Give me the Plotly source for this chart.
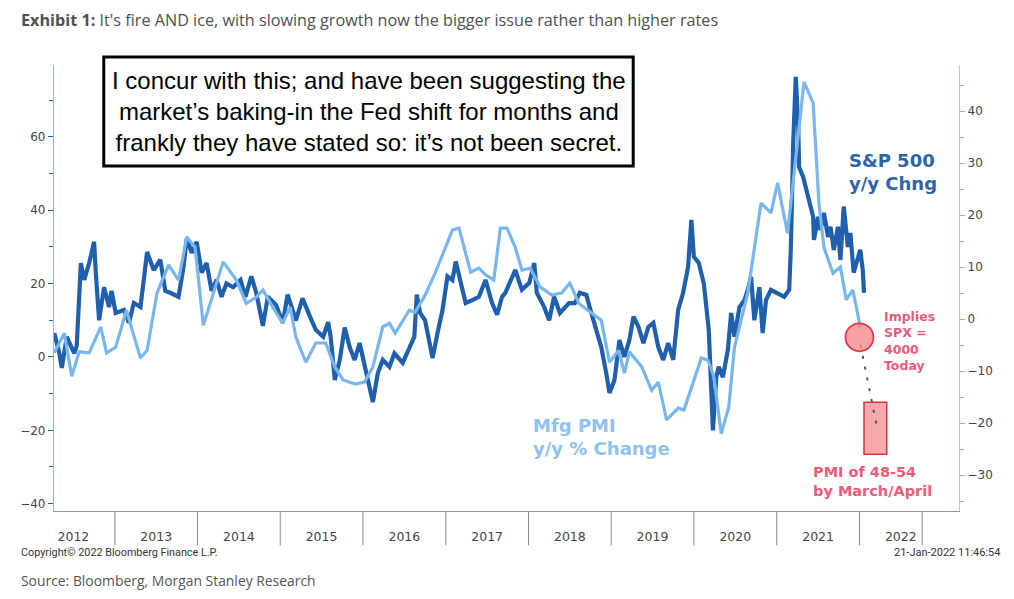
import datetime as dt
import plotly.graph_objects as go

# S&P 500 y/y % change (left axis); time as decimal years
spx_t = [2012.27, 2012.33, 2012.36, 2012.42, 2012.51, 2012.54, 2012.59, 2012.63, 2012.69, 2012.75,
         2012.77, 2012.81, 2012.87, 2012.93, 2012.96, 2013.01, 2013.11, 2013.17, 2013.23, 2013.31,
         2013.39, 2013.47, 2013.55, 2013.61, 2013.67, 2013.77, 2013.83, 2013.87, 2013.93, 2013.99,
         2014.05, 2014.11, 2014.17, 2014.23, 2014.29, 2014.35, 2014.43, 2014.52, 2014.58, 2014.65,
         2014.71, 2014.79, 2014.85, 2014.95, 2015.03, 2015.09, 2015.19, 2015.27, 2015.36, 2015.43,
         2015.52, 2015.58, 2015.61, 2015.66, 2015.72, 2015.78, 2015.84, 2015.90, 2015.96, 2016.02,
         2016.08, 2016.12, 2016.18, 2016.24, 2016.32, 2016.38, 2016.48, 2016.56, 2016.62, 2016.65,
         2016.69, 2016.75, 2016.84, 2016.90, 2016.96, 2017.02, 2017.08, 2017.12, 2017.18, 2017.24,
         2017.32, 2017.40, 2017.48, 2017.56, 2017.62, 2017.68, 2017.72, 2017.84, 2017.92, 2018.01,
         2018.07, 2018.10, 2018.19, 2018.25, 2018.31, 2018.38, 2018.49, 2018.56, 2018.62, 2018.70,
         2018.76, 2018.82, 2018.88, 2018.94, 2018.98, 2019.04, 2019.10, 2019.16, 2019.22, 2019.27,
         2019.33, 2019.39, 2019.45, 2019.51, 2019.57, 2019.63, 2019.69, 2019.75, 2019.81, 2019.87,
         2019.93, 2019.97, 2020.00, 2020.06, 2020.12, 2020.18, 2020.23, 2020.27, 2020.30, 2020.35,
         2020.41, 2020.45, 2020.49, 2020.55, 2020.61, 2020.65, 2020.69, 2020.73, 2020.79, 2020.83,
         2020.87, 2020.93, 2021.01, 2021.09, 2021.15, 2021.17, 2021.20, 2021.23, 2021.26, 2021.27,
         2021.32, 2021.35, 2021.39, 2021.44, 2021.45, 2021.50, 2021.53, 2021.57, 2021.62, 2021.65,
         2021.69, 2021.74, 2021.77, 2021.81, 2021.86, 2021.89, 2021.93, 2021.98, 2022.01, 2022.04,
         2022.055]
spx_yoy = [6.5, 1, -3, 5.5, 1, 3, 25.6, 21, 25.6, 31.4,
           23, 10, 19, 13.6, 18, 12, 12.8, 9.3, 14.7, 13.6,
           28.6, 23.7, 26.5, 18, 17.5, 16.4, 24.5, 32.4, 28.4, 31.4,
           23, 25.6, 18, 21, 16.4, 20, 19, 21, 16.4, 22,
           17.5, 8.5, 16.4, 14.2, 9.3, 17, 10, 16, 11, 7.4,
           5.5, 9.5, 5.5, -6.3, -0.8, 8, 2.7, -0.8, 3.8, -2.7,
           -8.2, -12.3, -4.4, -0.8, -2.7, 1, -1.6, 2.7, 5.5, 17,
           12, 10, -0.3, 6.5, 12.8, 22, 21, 26, 20, 14.7,
           15.5, 16.4, 21, 14.7, 11.5, 16.4, 17.5, 23.7, 18.3, 20.2,
           25.6, 17.5, 13.6, 10, 16.4, 12, 14.7, 14.7, 17.5, 16.9,
           12, 7.4, 2.7, -4.4, -9.8, -6.3, 4.6, 0, 4.6, 11,
           8.2, 3.8, 8.2, 9.3, 2.7, -0.8, 3.8, -0.8, 12.8, 17.5,
           24.5, 37.4, 27.3, 25.6, 20, 7.4, -20, -5.5, -2.7, -5.5,
           1.9, 12, 5.5, 13.6, 15.5, 18.3, 21.8, 10, 19, 6.5,
           15.5, 18.3, 17.5, 16.4, 18.3, 29.2, 59, 76.4, 62.7, 51.8,
           49, 46.4, 42.8, 38.2, 31.9, 38.2, 34.6, 39.3, 32.7, 35.5,
           29.2, 35.5, 26.5, 41, 30, 33.8, 23, 26.5, 29.2, 23.7,
           17.5]

# Manufacturing PMI y/y % change (right axis)
pmi_t = [2012.27, 2012.39, 2012.48, 2012.57, 2012.69, 2012.83, 2012.90, 2013.01, 2013.14, 2013.31,
         2013.39, 2013.51, 2013.65, 2013.77, 2013.87, 2013.97, 2014.07, 2014.31, 2014.47, 2014.59,
         2014.71, 2014.79, 2014.91, 2015.03, 2015.12, 2015.19, 2015.31, 2015.43, 2015.55, 2015.66,
         2015.76, 2015.91, 2016.02, 2016.12, 2016.24, 2016.32, 2016.39, 2016.56, 2016.63, 2016.75,
         2016.87, 2016.98, 2017.08, 2017.16, 2017.22, 2017.30, 2017.40, 2017.48, 2017.58, 2017.66,
         2017.74, 2017.84, 2017.92, 2018.02, 2018.14, 2018.28, 2018.40, 2018.50, 2018.61, 2018.76,
         2018.88, 2018.98, 2019.09, 2019.16, 2019.22, 2019.37, 2019.49, 2019.57, 2019.67, 2019.81,
         2019.88, 2020.09, 2020.17, 2020.24, 2020.33, 2020.42, 2020.49, 2020.65, 2020.81, 2020.93,
         2021.01, 2021.13, 2021.23, 2021.33, 2021.44, 2021.51, 2021.57, 2021.68, 2021.77, 2021.84,
         2021.92, 2022.01]
pmi_yoy = [-6.5, -2.7, -11, -6.3, -6.5, -1.5, -6.5, -5.4, 1.7, -7.5,
           -6, 5, 10.4, 7.5, 15.8, 13.8, -1.2, 11, 7.5, 3,
           4.2, 5.6, 2.3, -0.8, 2.3, -3.5, -8.3, -4.6, -4.6, -9.2,
           -11.7, -12.5, -12.1, -9.2, -1.5, -0.8, -2.7, 1.7, 1.3, 4.6,
           8.8, 13.3, 17.1, 17.5, 13.8, 9, 9.8, 8.5, 7.5, 17.5,
           17.5, 13.8, 9.4, 9.8, 6.2, 4.6, 5, 6.9, 3, 1.2,
           -0.2, -8.3, -6, -10.4, -6.3, -9.2, -13.7, -12.1, -19.4, -17.1,
           -17.5, -7.5, -7.9, -11, -22, -17, -5.4, 5, 22.3, 20.4,
           26.2, 16.5, 31.2, 45.6, 41.5, 22.3, 13.8, 8.8, 10, 3.7,
           5.6, -1.5]

# implied PMI y/y (circle today, box for March/April) and the dotted link
implied_today_t = [2022.0]
implied_today = [-3.5]
implied_box_t = [2022.055, 2022.33]
implied_box = [-26, -16]
link_t = [2022.013, 2022.218]
link_yoy = [-5, -21.3]

year_marks = ["2013-01-01", "2014-01-01", "2015-01-01", "2016-01-01", "2017-01-01",
              "2018-01-01", "2019-01-01", "2020-01-01", "2021-01-01", "2022-01-01", "2022-10-05"]
x_span = [2012.266, 2023.204]

box_lines = ["I concur with this; and have been suggesting the",
             "market’s baking-in the Fed shift for months and",
             "frankly they have stated so: it’s not been secret."]

DARK = "#1f5fad"
LIGHT = "#78b6ec"
PINK = "#ec5b78"


def to_date(t):
    year = int(t)
    start = dt.datetime(year, 1, 1)
    days = (dt.datetime(year + 1, 1, 1) - start).days
    return start + dt.timedelta(days=(t - year) * days)


fig = go.Figure()

fig.add_trace(go.Scatter(x=[to_date(t) for t in spx_t], y=spx_yoy, mode="lines",
                         line=dict(color=DARK, width=4.2), yaxis="y"))
fig.add_trace(go.Scatter(x=[to_date(t) for t in pmi_t], y=pmi_yoy, mode="lines",
                         line=dict(color=LIGHT, width=3.2), yaxis="y2"))
fig.add_trace(go.Scatter(x=[to_date(t) for t in link_t], y=link_yoy, mode="lines",
                         line=dict(color="#555555", width=2, dash="3px,8px"), yaxis="y2"))
fig.add_trace(go.Scatter(x=[to_date(t) for t in implied_today_t], y=implied_today, mode="markers",
                         marker=dict(size=28, color="rgba(245,130,135,0.75)",
                                     line=dict(color="#df3a4c", width=1.8)),
                         yaxis="y2"))

# red box for PMI of 48-54
fig.add_shape(type="rect", xref="x", yref="y2",
              x0=to_date(implied_box_t[0]), x1=to_date(implied_box_t[1]),
              y0=implied_box[0], y1=implied_box[1],
              fillcolor="rgba(245,140,140,0.75)", line=dict(color="#d8343f", width=1.5),
              layer="below")

# year separators under the axis
for d in year_marks:
    fig.add_shape(type="line", xref="x", yref="paper", x0=d, x1=d, y0=0, y1=-0.077,
                  line=dict(color="#8a8a8a", width=1))

# comment box
fig.add_shape(type="rect", xref="paper", yref="paper", x0=0.055, x1=0.640, y0=0.7735, y1=1.018,
              fillcolor="white", line=dict(color="black", width=3))
fig.add_annotation(text="<br>".join(box_lines), xref="paper", yref="paper", x=0.3476, y=0.896,
                   xanchor="center", yanchor="middle", align="center", showarrow=False,
                   font=dict(family="Liberation Sans, Arial", size=24, color="black"))

bold = "DejaVu Sans"
fig.add_annotation(text="<b>S&P 500<br>y/y Chng</b>", xref="paper", yref="paper", x=0.876, y=0.759,
                   xanchor="left", yanchor="middle", align="left", showarrow=False,
                   font=dict(family=bold, size=18, color="#2c64a6"))
fig.add_annotation(text="<b>Mfg PMI<br>y/y % Change</b>", xref="paper", yref="paper", x=0.527, y=0.166,
                   xanchor="left", yanchor="middle", align="left", showarrow=False,
                   font=dict(family=bold, size=18, color="#8ec2ef"))
fig.add_annotation(text="<b>Implies<br>SPX =<br>4000<br>Today</b>", xref="paper", yref="paper",
                   x=0.915, y=0.381, xanchor="left", yanchor="middle", align="left", showarrow=False,
                   font=dict(family=bold, size=12.5, color=PINK))
fig.add_annotation(text="<b>PMI of 48-54<br>by March/April</b>", xref="paper", yref="paper",
                   x=0.837, y=0.067, xanchor="left", yanchor="middle", align="left", showarrow=False,
                   font=dict(family=bold, size=14.5, color=PINK))

# title and footer texts
fig.add_annotation(text="<b>Exhibit 1:</b> It's fire AND ice, with slowing growth now the bigger issue rather than higher rates",
                   xref="paper", yref="paper", x=-0.0385, y=1.101, xanchor="left", yanchor="middle",
                   showarrow=False, font=dict(family="Open Sans", size=16.2, color="#505050"))
fig.add_annotation(text="Copyright© 2022 Bloomberg Finance L.P.", xref="paper", yref="paper",
                   x=-0.0385, y=-0.092, xanchor="left", yanchor="middle", showarrow=False,
                   font=dict(family="Roboto", size=10.8, color="#333333"))
fig.add_annotation(text="21-Jan-2022 11:46:54", xref="paper", yref="paper",
                   x=1.047, y=-0.092, xanchor="right", yanchor="middle", showarrow=False,
                   font=dict(family="Roboto", size=11, color="#333333"))
fig.add_annotation(text="Source: Bloomberg, Morgan Stanley Research", xref="paper", yref="paper",
                   x=-0.0385, y=-0.155, xanchor="left", yanchor="middle", showarrow=False,
                   font=dict(family="Open Sans", size=13.9, color="#555555"))

fig.update_layout(
    width=1014, height=599,
    margin=dict(l=42, r=63, t=57, b=96),
    paper_bgcolor="white", plot_bgcolor="white",
    showlegend=False,
    xaxis=dict(type="date", range=[to_date(x_span[0]), to_date(x_span[1])],
               tick0="2012-01-01", dtick="M12", tickformat="%Y", ticklabelmode="period",
               ticks="outside", ticklen=14, tickcolor="rgba(0,0,0,0)",
               showgrid=False, zeroline=False, showline=True, linecolor="#8e9aa8", linewidth=1,
               tickfont=dict(family="DejaVu Sans", size=12.5, color="#444444")),
    yaxis=dict(range=[-42.0, 79.6], dtick=20, ticks="outside", ticklen=5, tickcolor=DARK,
               minor=dict(dtick=10, ticks="outside", ticklen=4, tickcolor=DARK),
               showgrid=False, zeroline=False, showline=True, linecolor="#8cb6e6", linewidth=1.2,
               tickfont=dict(family="DejaVu Sans", size=12, color="#444444")),
    yaxis2=dict(range=[-36.9, 48.85], dtick=10, overlaying="y", side="right", anchor="x",
                ticks="outside", ticklen=5, tickcolor=LIGHT,
                minor=dict(dtick=5, ticks="outside", ticklen=4, tickcolor=LIGHT),
                showgrid=False, zeroline=False, showline=True, linecolor="#a9cdf0", linewidth=1.2,
                tickfont=dict(family="DejaVu Sans", size=12, color="#444444")),
)

fig.write_html("out.html")
